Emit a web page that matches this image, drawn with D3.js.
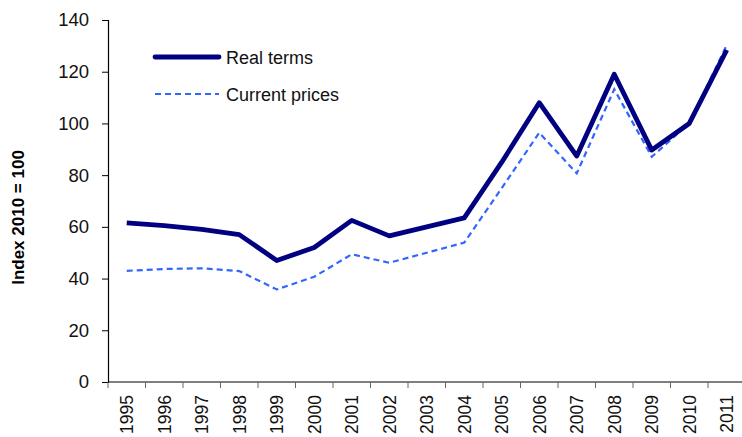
<html>
<head>
  <script src="https://d3js.org/d3.v7.min.js"></script>
  <style>
    body { margin: 0; background: #fff; }
    text { font-family: Arial, "Liberation Sans", sans-serif; }
  </style>
</head>
<body>
  <div id="chart"></div>
  <script type="text/javascript">
    // Data
    var years = ['1995', '1996', '1997', '1998', '1999', '2000', '2001', '2002', '2003',
                 '2004', '2005', '2006', '2007', '2008', '2009', '2010', '2011'];
    var realTerms = [61.5, 60.5, 59, 57, 47, 52, 62.5, 56.5, 60, 63.5, 85, 108, 87.4, 119, 89.7, 100, 128.4];
    var currentPrices = [43, 43.7, 44, 42.9, 35.8, 40.7, 49.4, 46.1, 50, 53.9, 75, 96.4, 80.7, 113.2, 87.1, 100, 130.3];
    var yTicks = [0, 20, 40, 60, 80, 100, 120, 140];

    var width = 742, height = 437;
    // plot area edges (note: "top" is reserved on window, so use other names)
    var plotLeft = 108, plotRight = 745.5, plotTop = 20, plotBottom = 382;

    var svg = d3.select('#chart')
                .append('svg')
                  .attr('width', width)
                  .attr('height', height);

    var x = d3.scaleBand().domain(years).range([plotLeft, plotRight]);
    var y = d3.scaleLinear().domain([0, 140]).range([plotBottom, plotTop]);

    // Y axis
    var y_axis = d3.axisLeft(y).tickValues(yTicks).tickSize(6).tickPadding(13);
    var gy = svg.append('g')
                .attr('transform', 'translate(' + plotLeft + ',0)')
                .call(y_axis);
    gy.select('.domain').attr('stroke', '#000').attr('stroke-width', 1.2);
    gy.selectAll('.tick line').attr('stroke', '#000');
    gy.selectAll('.tick text')
      .attr('font-size', 18.5)
      .attr('fill', '#111')
      .style('font-family', 'Arial, "Liberation Sans", sans-serif');

    // X axis: ticks sit on category boundaries
    var gx = svg.append('g')
                .attr('transform', 'translate(0,' + plotBottom + ')');
    gx.append('line')
      .attr('x1', plotLeft).attr('x2', plotRight)
      .attr('y1', 0).attr('y2', 0)
      .attr('stroke', '#000').attr('stroke-width', 1.2);
    gx.selectAll('.xtick')
      .data(years)
      .enter()
      .append('line')
        .attr('class', 'xtick')
        .attr('x1', function(d) { return x(d); })
        .attr('x2', function(d) { return x(d); })
        .attr('y1', 0).attr('y2', 6)
        .attr('stroke', '#666');
    gx.selectAll('.xlabel')
      .data(years)
      .enter()
      .append('text')
        .attr('class', 'xlabel')
        .text(function(d) { return d; })
        .attr('text-anchor', 'end')
        .attr('font-size', 17.5)
        .attr('fill', '#111')
        .attr('transform', function(d) {
          return 'translate(' + (x(d) + x.bandwidth() / 2 + 6.5) + ',13) rotate(-90)';
        });

    // Axis title
    svg.append('text')
       .text('Index 2010 = 100')
       .attr('text-anchor', 'middle')
       .attr('font-size', 17)
       .attr('font-weight', 'bold')
       .attr('fill', '#000')
       .attr('transform', 'translate(23.5,217.5) rotate(-90)');

    var line_function = d3.line()
                          .x(function(d, i) { return x(years[i]) + x.bandwidth() / 2; })
                          .y(function(d) { return y(d); })
                          .curve(d3.curveLinear);

    svg.append('path')
       .attr('d', line_function(currentPrices))
       .attr('fill', 'none')
       .attr('stroke', '#3366ff')
       .attr('stroke-width', 2.2)
       .attr('stroke-dasharray', '6,4');

    svg.append('path')
       .attr('d', line_function(realTerms))
       .attr('fill', 'none')
       .attr('stroke', '#000080')
       .attr('stroke-width', 4.8)
       .attr('stroke-linejoin', 'round');

    // Legend
    var legend = [
      {name: 'Real terms', color: '#000080', w: 4.8, dash: null, y: 57},
      {name: 'Current prices', color: '#3366ff', w: 2.2, dash: '6,4', y: 94}
    ];
    legend.forEach(function(l) {
      svg.append('line')
         .attr('x1', 155).attr('x2', 219)
         .attr('y1', l.y).attr('y2', l.y)
         .attr('stroke', l.color)
         .attr('stroke-width', l.w)
         .attr('stroke-linecap', l.dash ? 'butt' : 'round')
         .attr('stroke-dasharray', l.dash);
      svg.append('text')
         .text(l.name)
         .attr('x', 226)
         .attr('y', l.y + 6.5)
         .attr('font-size', 18)
         .attr('fill', '#111');
    });
  </script>
</body>
</html>
